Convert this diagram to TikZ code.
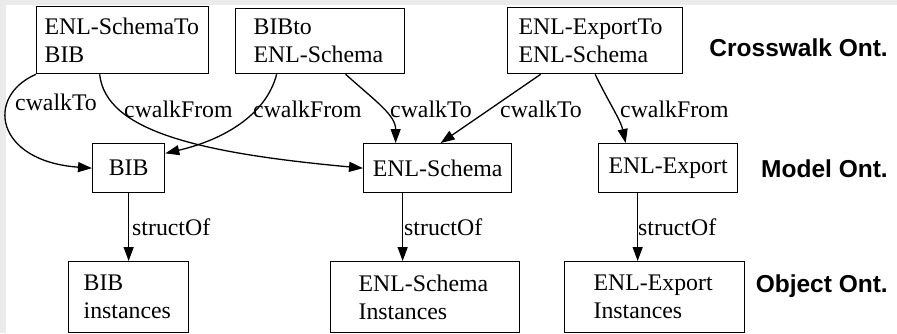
\documentclass[tikz,border=0pt]{standalone}
\usepackage{fontspec}
\setmainfont{Liberation Serif}
\newfontfamily\lblfont{Liberation Sans}
\usetikzlibrary{arrows.meta}
\definecolor{bggray}{RGB}{235,235,235}
\begin{document}
\begin{tikzpicture}[x=1pt,y=-1pt,
  box/.style={draw=black, line width=1.3pt, rectangle, inner ysep=0pt, font=\fontsize{23.8}{28}\selectfont},
  mbox/.style={box, align=left, anchor=north west},
  cbox/.style={box, anchor=north west, minimum height=49pt},
  edge/.style={line width=1.3pt, -{Triangle[length=14pt,width=10pt]}},
  lbl/.style={font=\fontsize{23.8}{28}\selectfont, inner sep=0pt, anchor=base west},
  onto/.style={font=\lblfont\bfseries\fontsize{24.5}{28}\selectfont, inner sep=0pt, anchor=base east}]
\useasboundingbox (0,0) rectangle (897,333);
\fill[bggray] (0,0) rectangle (897,333);
\fill[white] (6,5) rectangle (897,333);

% crosswalk ontologies
\node[mbox, text width=156pt, inner xsep=8pt, minimum height=67pt] (A) at (36,6) {ENL-SchemaTo\\BIB};
\node[mbox, text width=133pt, inner xsep=18pt, minimum height=65pt] (B) at (235,8) {BIBto\\ENL-Schema};
\node[mbox, text width=153pt, inner xsep=11pt, minimum height=66pt] (C) at (507,7) {ENL-ExportTo\\ENL-Schema};

% model ontologies
\node[cbox, minimum width=72pt] (BIB) at (92,143) {BIB};
\node[cbox, minimum width=148pt] (ES) at (363,143) {ENL-Schema};
\node[cbox, minimum width=139pt] (EE) at (598,143) {ENL-Export};

% object ontologies
\node[mbox, text width=90pt, inner xsep=15pt, minimum height=71pt] (BI) at (68,261) {BIB\\instances};
\node[mbox, text width=133pt, inner xsep=28pt, minimum height=71pt] (ESI) at (330,261) {ENL-Schema\\Instances};
\node[mbox, text width=122pt, inner xsep=29pt, minimum height=71pt] (EEI) at (564,261) {ENL-Export\\Instances};

% edges
\draw[edge] (A.south west) .. controls +(-51,22) and +(-97,-7) .. (BIB.west);
\draw[edge] ([xshift=-23pt]A.south) .. controls +(6,57) and +(-163,-15) .. (ES.west);
\draw[edge] ([xshift=-43.5pt]B.south) .. controls +(-11,42) and +(56,-13) .. (BIB.22);
\draw[edge] ([xshift=25.5pt]B.south) .. controls +(30,27) and +(0,-28) .. ([xshift=-42pt]ES.north);
\draw[edge] ([xshift=-54.5pt]C.south) -- ([xshift=3pt]ES.north);
\draw[edge] (C.south) .. controls +(13,27) and +(-5,-23) .. ([xshift=-42.5pt]EE.north);

\draw[edge] (BIB.south) -- (BI.north);
\draw[edge] ([xshift=-35pt]ES.south) -- ([xshift=-22.5pt]ESI.north);
\draw[edge] ([xshift=-30.5pt]EE.south) -- ([xshift=-17pt]EEI.north);

% edge labels
\node[lbl] (l1) at (15,110) {cwalkTo};
\node[lbl] (l2) at (124,117) {cwalkFrom};
\node[lbl] (l3) at (253,117) {cwalkFrom};
\node[lbl] (l4) at (390,117) {cwalkTo};
\node[lbl] (l5) at (500,117) {cwalkTo};
\node[lbl] (l6) at (620,117) {cwalkFrom};
\node[lbl] (s1) at (132,235) {structOf};
\node[lbl] (s2) at (404,235) {structOf};
\node[lbl] (s3) at (638,235) {structOf};

% level labels
\node[onto] (t1) at (888,56) {Crosswalk Ont.};
\node[onto] (t2) at (888,177) {Model Ont.};
\node[onto] (t3) at (888,292) {Object Ont.};
\end{tikzpicture}
\end{document}
